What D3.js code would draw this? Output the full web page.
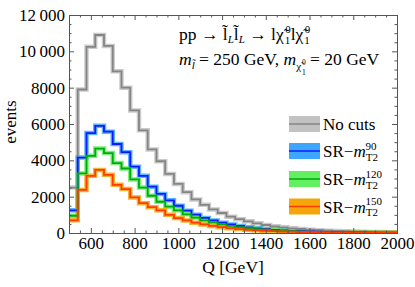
<!DOCTYPE html>
<html><head><meta charset="utf-8">
<script src="https://cdn.jsdelivr.net/npm/d3@7"></script>
<style>body{margin:0;background:#fff}svg{display:block}text{font-family:"Liberation Serif","DejaVu Serif",serif;fill:#000}</style>
</head><body>
<svg id="c" width="415" height="287"></svg>
<script>
const binEdges = [500,540,580,620,660,700,740,780,820,860,900,940,980,1020,1060,1100,1140,1180,1220,1260,1300,1340,1380,1420,1460,1500,1540,1580,1620,1660,1700,1740,1780,1820,1860,1900,1940,1980,2000];
const noCuts = [2500,7900,10250,10900,10300,8900,8000,6750,5650,4600,3950,3250,2700,2250,1850,1550,1300,1100,900,760,640,530,440,370,310,260,220,185,155,130,110,95,80,68,58,50,42,36];
const sr90 = [1250,4150,5500,5900,5580,4900,4450,3650,3150,2550,2150,1800,1500,1230,1010,830,690,570,470,385,315,260,212,175,145,120,100,82,68,57,47,39,32,27,22,18,15,13];
const sr120 = [950,3280,4250,4650,4400,3850,3550,2950,2500,2050,1720,1450,1250,1030,850,700,580,480,390,320,265,215,178,145,120,98,80,66,54,44,36,30,25,20,16,13,11,9];
const sr150 = [700,2370,3150,3470,3200,2650,2420,1960,1640,1420,1250,1000,820,690,570,470,390,320,265,218,180,148,122,100,83,68,56,46,38,31,26,21,17,14,12,10,8,7];
const xTicks = [600,800,1000,1200,1400,1600,1800,2000];
const yTicks = [0,2000,4000,6000,8000,10000,12000];
const yTickLabels = ["0","2000","4000","6000","8000","10\u2009000","12\u2009000"];
const seriesNames = ["No cuts","SR90","SR120","SR150"];
const legendSup = [null,"90","120","150"];

const svg = d3.select("#c");
const L=69,R=397,T=15,B=233;
const x = d3.scaleLinear().domain([500,2000]).range([L,R]);
const y = d3.scaleLinear().domain([0,12000]).range([B,T]);

const series = [
  {vals:noCuts, line:"#858585", halo:"#c2c2c2"},
  {vals:sr90, line:"#0a1cff", halo:"#3fa6ff"},
  {vals:sr120, line:"#00aa10", halo:"#62ef62"},
  {vals:sr150, line:"#ff3c00", halo:"#f6a60a"}
];

function stepPath(vals){
  const pts=[];
  vals.forEach((v,i)=>{pts.push([binEdges[i],v]);pts.push([binEdges[i+1],v]);});
  return d3.line().x(d=>x(d[0])).y(d=>y(d[1]))(pts);
}
const g = svg.append("g");
g.append("defs").append("clipPath").attr("id","clip").append("rect").attr("x",L).attr("y",T).attr("width",R-L).attr("height",B-T);
const plot = g.append("g").attr("clip-path","url(#clip)");
series.forEach(s=>{
  plot.append("path").attr("d",stepPath(s.vals)).attr("fill","none").attr("stroke",s.halo).attr("stroke-width",4.5).attr("stroke-opacity",0.85);
});
series.forEach(s=>{
  plot.append("path").attr("d",stepPath(s.vals)).attr("fill","none").attr("stroke",s.line).attr("stroke-width",1.8);
});

// frame axes
const frameColor="#555";
const FS=17;
const ax = g.append("g");
const xMinor = d3.range(500,2001,50).filter(v=>v%200!==0);
const yMinor = d3.range(0,12001,500).filter(v=>v%2000!==0);
const xb = d3.axisBottom(x).tickValues(xTicks).tickSize(-5).tickPadding(4).tickFormat(d3.format("d"));
const xbm = d3.axisBottom(x).tickValues(xMinor).tickSize(-2.5).tickFormat("");
const xt = d3.axisTop(x).tickValues(xTicks).tickSize(-5).tickFormat("");
const xtm = d3.axisTop(x).tickValues(xMinor).tickSize(-2.5).tickFormat("");
const yl = d3.axisLeft(y).tickValues(yTicks).tickSize(-5).tickPadding(4).tickFormat((d,i)=>yTickLabels[i]);
const ylm = d3.axisLeft(y).tickValues(yMinor).tickSize(-2.5).tickFormat("");
const yr = d3.axisRight(y).tickValues(yTicks).tickSize(-5).tickFormat("");
const yrm = d3.axisRight(y).tickValues(yMinor).tickSize(-2.5).tickFormat("");
[[xb,`translate(0,${B})`],[xbm,`translate(0,${B})`],[xt,`translate(0,${T})`],[xtm,`translate(0,${T})`],[yl,`translate(${L},0)`],[ylm,`translate(${L},0)`],[yr,`translate(${R},0)`],[yrm,`translate(${R},0)`]].forEach(([a,t])=>{
  const gg=ax.append("g").attr("transform",t).call(a);
  gg.attr("font-family",null).attr("font-size",null);
  gg.selectAll("path.domain").attr("stroke",frameColor).attr("stroke-width",1);
  gg.selectAll(".tick line").attr("stroke",frameColor);
  gg.selectAll("text").attr("fill","#000").style("font-family","'Liberation Serif'").style("font-size",FS+"px");
});

// axis labels
svg.append("text").attr("x",233).attr("y",273).attr("text-anchor","middle").attr("font-size",17.5).text("Q [GeV]");
svg.append("text").attr("transform","translate(16,122) rotate(-90)").attr("text-anchor","middle").attr("font-size",17).text("events");

// title
const TF=17.5, sub=11;
const t1 = svg.append("text").attr("x",179).attr("y",40).attr("font-size",TF);
t1.append("tspan").text("pp \u2192 l\u0303");
t1.append("tspan").attr("font-size",sub).attr("font-style","italic").attr("dy",3).text("L");
t1.append("tspan").attr("dy",-3).text("l\u0303");
t1.append("tspan").attr("font-size",sub).attr("font-style","italic").attr("dy",3).text("L");
t1.append("tspan").attr("dy",-3).text(" \u2192 l");
t1.append("tspan").text("\u03c7\u0303");
t1.append("tspan").attr("font-size",sub).attr("dx",1.5).attr("dy",-7).text("0");
t1.append("tspan").attr("font-size",sub).attr("dx",-6).attr("dy",11).text("1");
t1.append("tspan").attr("dx",0.5).attr("dy",-4).text("l");
t1.append("tspan").text("\u03c7\u0303");
t1.append("tspan").attr("font-size",sub).attr("dx",1.5).attr("dy",-7).text("0");
t1.append("tspan").attr("font-size",sub).attr("dx",-6).attr("dy",11).text("1");

const t2 = svg.append("text").attr("x",179).attr("y",65).attr("font-size",TF);
t2.append("tspan").attr("font-style","italic").text("m");
t2.append("tspan").attr("font-size",sub).attr("font-style","italic").attr("dy",4).text("l\u0303");
t2.append("tspan").attr("dy",-4).text(" = 250 GeV, ");
t2.append("tspan").attr("font-style","italic").text("m");
t2.append("tspan").attr("font-size",sub).attr("dy",5).text("\u03c7\u0303");
t2.append("tspan").attr("font-size",7.5).attr("dx",1).attr("dy",-5).text("0");
t2.append("tspan").attr("font-size",7.5).attr("dx",-3.8).attr("dy",10).text("1");
t2.append("tspan").attr("dy",-10).text(" = 20 GeV");

// legend
const lg = svg.append("g");
const legY = [124,151,179,206.5];
series.forEach((s,i)=>{
  lg.append("rect").attr("x",289).attr("y",legY[i]-8).attr("width",31).attr("height",16).attr("fill",s.halo);
  lg.append("line").attr("x1",289).attr("x2",320).attr("y1",legY[i]).attr("y2",legY[i]).attr("stroke",s.line).attr("stroke-width",1.5);
  const tx = lg.append("text").attr("x",323).attr("y",legY[i]+6).attr("font-size",17);
  if(i===0){ tx.text(seriesNames[0]); }
  else {
    tx.append("tspan").text("SR\u2212");
    tx.append("tspan").attr("font-style","italic").text("m");
    tx.append("tspan").attr("font-size",11).attr("dy",3.5).text("T2");
    const w = 12.5;
    tx.append("tspan").attr("font-size",11).attr("dx",-w).attr("dy",-11).text(legendSup[i]);
  }
});
</script>
</body></html>
